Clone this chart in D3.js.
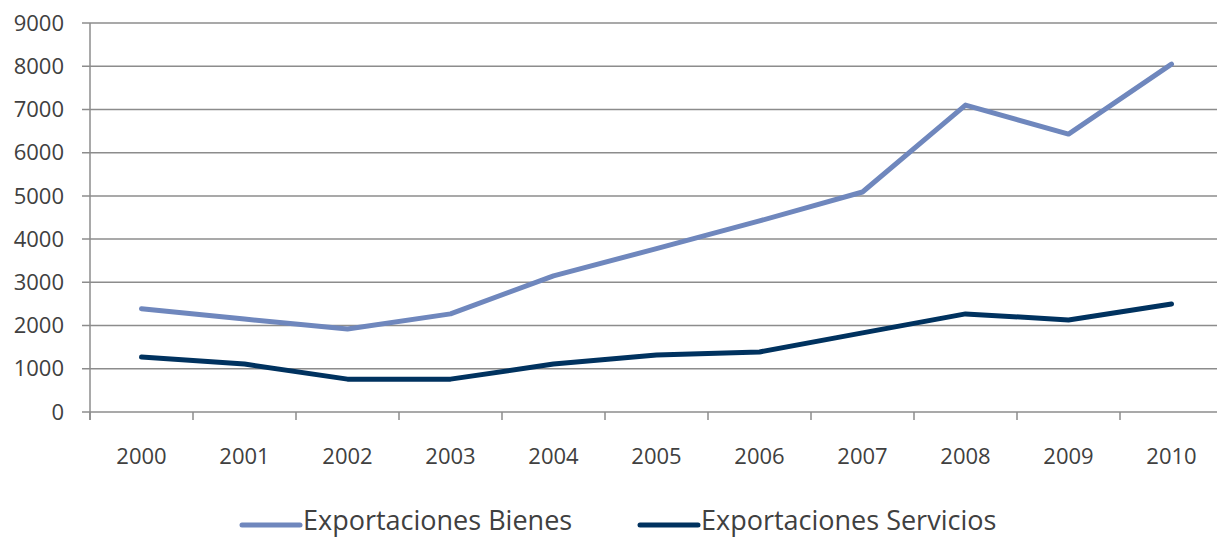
<!DOCTYPE html>
<meta charset="utf-8">
<script src="https://d3js.org/d3.v7.min.js"></script>
<style>
  body { margin: 0; background: #fff; }
  text { font-family: "Open Sans", sans-serif; fill: #404040; }
</style>
<div id="chart"></div>
<script>
// Datos
var years = ["2000","2001","2002","2003","2004","2005","2006","2007","2008","2009","2010"];
var bienes = [2390, 2150, 1920, 2270, 3150, 3780, 4420, 5090, 7100, 6430, 8050];
var servicios = [1270, 1110, 760, 760, 1110, 1320, 1390, 1830, 2270, 2130, 2500];
var yTicks = [0, 1000, 2000, 3000, 4000, 5000, 6000, 7000, 8000, 9000];
var seriesNames = ["Exportaciones Bienes", "Exportaciones Servicios"];
var seriesColors = ["#6F87BD", "#00325F"];

var W = 1217, H = 540;
var svg = d3.select("#chart").append("svg").attr("width", W).attr("height", H);

var x = d3.scaleBand().domain(years).range([90, 1223]);
var y = d3.scaleLinear().domain([0, 9000]).range([412, 23]);

// lineas de cuadricula
svg.append("g").selectAll("line").data(yTicks).enter().append("line")
  .attr("x1", 82).attr("x2", W)
  .attr("y1", function(d) { return y(d); }).attr("y2", function(d) { return y(d); })
  .attr("stroke", "#8c8c8c").attr("stroke-width", 1.5);

// eje y
svg.append("line").attr("x1", 90).attr("x2", 90).attr("y1", y(9000)).attr("y2", 420)
  .attr("stroke", "#8c8c8c").attr("stroke-width", 1.5);

svg.append("g").selectAll("text").data(yTicks).enter().append("text")
  .attr("x", 64).attr("y", function(d) { return y(d); })
  .attr("dy", "0.35em").attr("text-anchor", "end")
  .style("font-size", "22px").text(function(d) { return d; });

// marcas del eje x
var bounds = years.map(function(d) { return x(d); }).concat([x(years[years.length - 1]) + x.bandwidth()]);
svg.append("g").selectAll("line").data(bounds).enter().append("line")
  .attr("x1", function(d) { return d; }).attr("x2", function(d) { return d; })
  .attr("y1", 412).attr("y2", 420)
  .attr("stroke", "#8c8c8c").attr("stroke-width", 1.5);

svg.append("g").selectAll("text").data(years).enter().append("text")
  .attr("x", function(d) { return x(d) + x.bandwidth() / 2; }).attr("y", 456)
  .attr("dy", "0.35em").attr("text-anchor", "middle")
  .style("font-size", "22px").text(function(d) { return d; });

// lineas
var line = d3.line()
  .x(function(d, i) { return x(years[i]) + x.bandwidth() / 2; })
  .y(function(d) { return y(d); });

[bienes, servicios].forEach(function(s, i) {
  svg.append("path").datum(s)
    .attr("fill", "none").attr("stroke", seriesColors[i]).attr("stroke-width", 5)
    .attr("stroke-linecap", "round").attr("stroke-linejoin", "round")
    .attr("d", line);
});

// leyenda
var legX = [242, 640];
seriesNames.forEach(function(n, i) {
  svg.append("line").attr("x1", legX[i]).attr("x2", legX[i] + 58)
    .attr("y1", 525).attr("y2", 525)
    .attr("stroke", seriesColors[i]).attr("stroke-width", 5).attr("stroke-linecap", "round");
  svg.append("text").attr("x", legX[i] + 61).attr("y", 521).attr("dy", "0.35em")
    .style("font-size", "27px").text(n);
});
</script>
